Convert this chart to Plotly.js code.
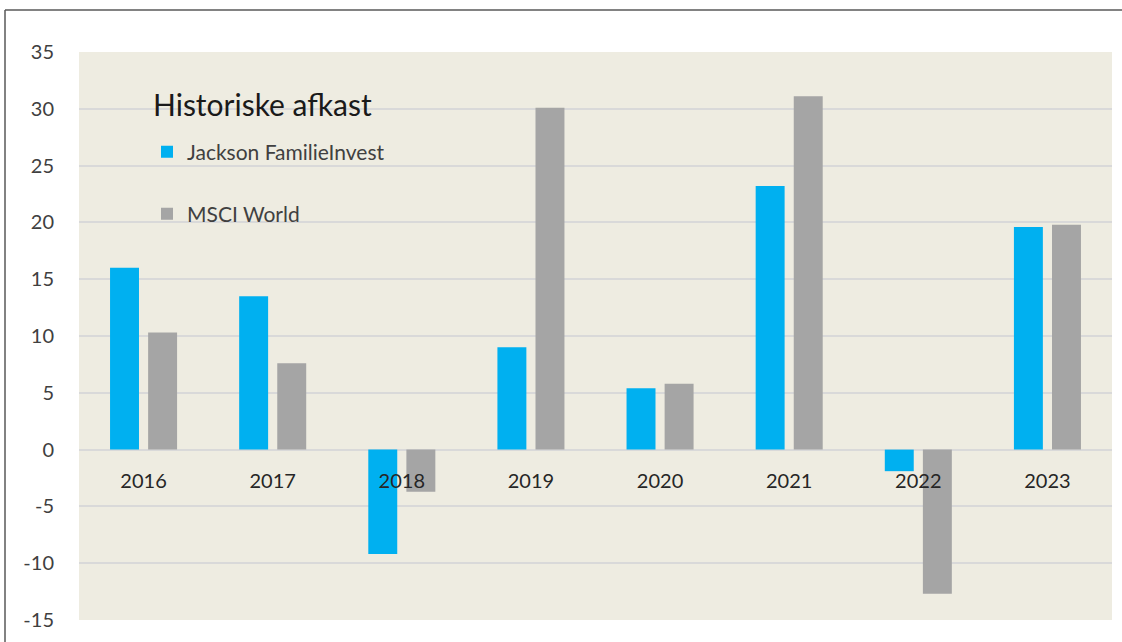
<!DOCTYPE html>
<html>
<head>
<meta charset="utf-8">
<script src="https://cdn.plot.ly/plotly-3.0.1.min.js"></script>
<style>
  html, body { margin: 0; padding: 0; background: #ffffff; }
  #chart { width: 1122px; height: 642px; }
</style>
</head>
<body>
<div id="chart"></div>
<script>
const years = ['2016', '2017', '2018', '2019', '2020', '2021', '2022', '2023'];
const jacksonValues = [16.0, 13.5, -9.2, 9.0, 5.4, 23.2, -1.9, 19.6];
const msciValues = [10.3, 7.6, -3.7, 30.1, 5.8, 31.1, -12.7, 19.8];
const seriesNames = ['Jackson FamilieInvest', 'MSCI World'];
const chartTitle = 'Historiske afkast';
const yTicks = [-15, -10, -5, 0, 5, 10, 15, 20, 25, 30, 35];

const font = 'Lato, "Open Sans", "Noto Sans", sans-serif';

const traces = [
  {
    type: 'bar', name: seriesNames[0], x: years, y: jacksonValues,
    marker: { color: '#00B0F0', line: { width: 0 } },
    legend: 'legend', hoverinfo: 'x+y+name'
  },
  {
    type: 'bar', name: seriesNames[1], x: years, y: msciValues,
    marker: { color: '#A5A5A5', line: { width: 0 } },
    legend: 'legend2', hoverinfo: 'x+y+name'
  }
];

const layout = {
  width: 1122, height: 642,
  margin: { l: 79, r: 10, t: 52, b: 22 },
  paper_bgcolor: '#ffffff',
  plot_bgcolor: '#EEECE1',
  barmode: 'group',
  bargap: 0.41,
  bargroupgap: 0.24,
  font: { family: font, color: '#404040', size: 20 },
  title: {
    text: chartTitle,
    font: { family: font, size: 30, color: '#1a1a1a' },
    x: (153 - 79) / 1033, xanchor: 'left', xref: 'paper',
    y: 1 - 105 / 642, yanchor: 'middle'
  },
  xaxis: {
    type: 'category',
    anchor: 'free',
    position: (620 - 449) / 568,
    showgrid: false,
    showline: false,
    ticks: '',
    ticklabelstandoff: 18,
    tickfont: { family: font, size: 20, color: '#262626' },
    fixedrange: true
  },
  yaxis: {
    range: [-15, 35],
    tickvals: yTicks,
    ticktext: yTicks.map(String),
    showgrid: true,
    gridcolor: '#D9D9D9',
    gridwidth: 2,
    zeroline: true,
    zerolinecolor: '#D9D9D9',
    zerolinewidth: 2,
    showline: false,
    ticks: '',
    ticklabelstandoff: 24,
    tickfont: { family: font, size: 20, color: '#404040' },
    fixedrange: true
  },
  showlegend: true,
  legend: {
    x: (147 - 79) / 1033, y: 1 - (152 - 52) / 568,
    xanchor: 'left', yanchor: 'middle',
    bgcolor: 'rgba(0,0,0,0)',
    font: { family: font, size: 21, color: '#404040' },
    itemwidth: 30
  },
  legend2: {
    x: (147 - 79) / 1033, y: 1 - (214 - 52) / 568,
    xanchor: 'left', yanchor: 'middle',
    bgcolor: 'rgba(0,0,0,0)',
    font: { family: font, size: 21, color: '#404040' },
    itemwidth: 30
  },
  shapes: [
    { type: 'line', xref: 'paper', yref: 'paper',
      x0: (5 - 79) / 1033, x1: (5 - 79) / 1033,
      y0: 1 + (52 - 10) / 568, y1: -(642 - 620 + 10) / 568,
      line: { color: '#595959', width: 1.5 } },
    { type: 'line', xref: 'paper', yref: 'paper',
      x0: (5 - 79) / 1033, x1: 1 + (1125 - 1112) / 1033,
      y0: 1 + (52 - 10) / 568, y1: 1 + (52 - 10) / 568,
      line: { color: '#595959', width: 1.5 } }
  ]
};

Plotly.newPlot('chart', traces, layout, { displayModeBar: false, staticPlot: false });
</script>
</body>
</html>
